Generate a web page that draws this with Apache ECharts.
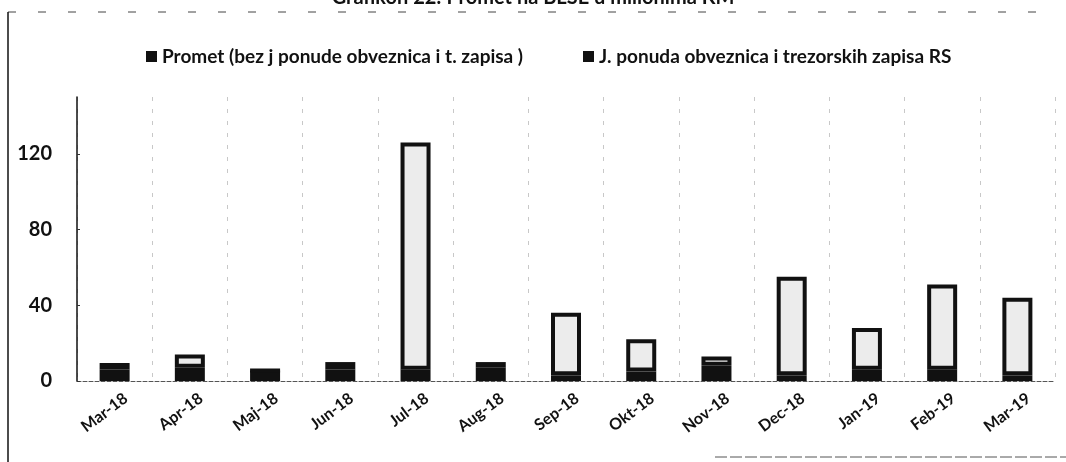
<!DOCTYPE html>
<html>
<head>
<meta charset="utf-8">
<script src="https://cdn.jsdelivr.net/npm/echarts@6/dist/echarts.min.js"></script>
<style>
  html, body { margin: 0; padding: 0; background: #fff; }
  #mychart { width: 1066px; height: 462px; }
</style>
</head>
<body>
<div id="mychart"></div>
<script>
// mjeseci
const categories = ["Mar-18", "Apr-18", "Maj-18", "Jun-18", "Jul-18", "Aug-18", "Sep-18", "Okt-18", "Nov-18", "Dec-18", "Jan-19", "Feb-19", "Mar-19"];
// promet bez javne ponude (mil KM)
const prometData = [6, 7, 5.5, 6, 6, 7, 3, 5, 8, 3, 6, 6, 3];
// javna ponuda obveznica i trezorskih zapisa
const ponudaData = [3.5, 7, 0, 4, 120, 3, 33, 17, 5, 52, 22, 45, 41];
const yTicks = [0, 40, 80, 120];

const font = "Lato, 'Open Sans', sans-serif";
const legendText = { fontFamily: font, fontSize: 19, fontWeight: "bold", color: "#111" };

const option = {
  backgroundColor: "#fff",
  animation: false,
  title: {
    text: "Grafikon 22: Promet na BLSE u milionima KM",
    left: "center",
    top: -17,
    textStyle: { fontFamily: font, fontSize: 20, fontWeight: "bold", color: "#111" },
  },
  graphic: [
    // okvir grafikona (odsjecen na skenu)
    { type: "line", shape: { x1: 8, y1: 12, x2: 1050, y2: 12 }, style: { stroke: "#444", lineWidth: 1, lineDash: [8, 22] }, silent: true },
    { type: "line", shape: { x1: 8, y1: 12, x2: 8, y2: 462 }, style: { stroke: "#111", lineWidth: 1.5 }, silent: true },
    { type: "line", shape: { x1: 715, y1: 457, x2: 1066, y2: 457 }, style: { stroke: "#555", lineWidth: 1, lineDash: [12, 3] }, silent: true },
  ],
  legend: [
    {
      top: 42,
      left: 141,
      itemWidth: 11,
      itemHeight: 11,
      icon: "rect",
      textStyle: legendText,
      data: ["Promet (bez j ponude obveznica i t. zapisa )"],
    },
    {
      top: 42,
      left: 578,
      itemWidth: 11,
      itemHeight: 11,
      icon: "rect",
      textStyle: legendText,
      data: [{ name: "J. ponuda obveznica i trezorskih zapisa RS", itemStyle: { color: "#111", borderWidth: 0 } }],
    },
  ],
  grid: { left: 77, right: 11, top: 97, bottom: 81 },
  xAxis: {
    type: "category",
    data: categories,
    axisLine: { show: true, lineStyle: { color: "#555", type: "dashed" } },
    axisTick: { show: false },
    splitLine: { show: true, lineStyle: { color: "#c8c8c8", type: [4, 8] } },
    axisLabel: {
      rotate: 37,
      margin: 24,
      fontFamily: font,
      fontSize: 16,
      fontWeight: "bold",
      color: "#111",
      padding: [0, -14, 0, 0],
    },
  },
  yAxis: {
    type: "value",
    min: 0,
    max: 150,
    interval: 40,
    axisLine: { show: true, lineStyle: { color: "#111", width: 1.5 } },
    axisTick: { show: true, length: 3, inside: true, lineStyle: { color: "#333" } },
    splitLine: { show: false },
    axisLabel: {
      margin: 25,
      showMaxLabel: false,
      fontFamily: font,
      fontSize: 20,
      fontWeight: "bold",
      color: "#111",
      formatter: (v) => (yTicks.includes(v) ? String(v) : ""),
    },
  },
  series: [
    {
      name: "Promet (bez j ponude obveznica i t. zapisa )",
      type: "bar",
      stack: "ukupno",
      barWidth: 30,
      itemStyle: { color: "#111" },
      data: prometData,
    },
    {
      name: "J. ponuda obveznica i trezorskih zapisa RS",
      type: "bar",
      stack: "ukupno",
      barWidth: 30,
      itemStyle: { color: "#ececec", borderColor: "#111", borderWidth: 4 },
      data: ponudaData,
    },
  ],
};

const myChart = echarts.init(document.getElementById("mychart"));
myChart.setOption(option);
window.addEventListener("resize", () => {
  myChart.resize();
});
</script>
</body>
</html>
